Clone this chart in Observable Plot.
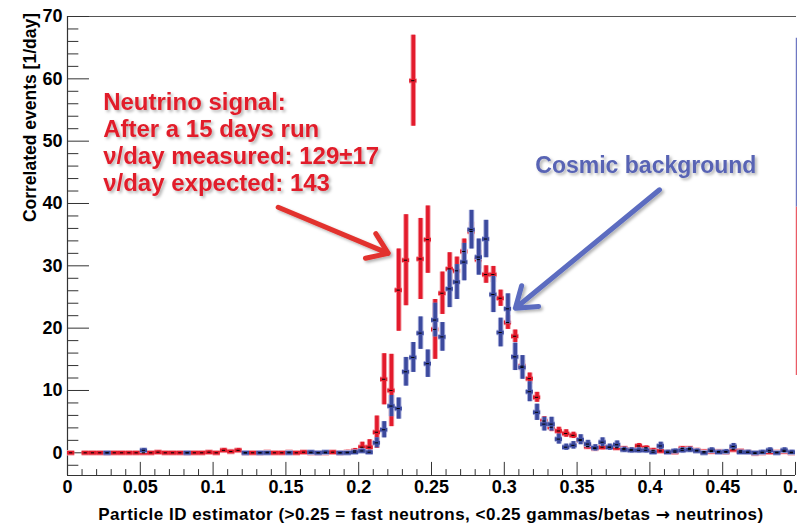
<!DOCTYPE html>
<html><head><meta charset="utf-8">
<script src="https://cdn.jsdelivr.net/npm/d3@7"></script>
<script src="https://cdn.jsdelivr.net/npm/@observablehq/plot@0.6"></script>
<style>body{margin:0;background:#fff}#chart svg{display:block;overflow:hidden}</style>
</head><body><div id="chart"></div><script>
// ---- data: 100 bins of width 0.005 between 0 and 0.5 ----
const binWidth = 0.005;
const signalValues = [
  0, null, 0, 0, 0, 0, 0, 0, 0, 0,
  0, 0, 0.1, 0, 0, 0, 0, 0, 0, 0.1,
  0, 0.4, 0.2, 0.4, 0, 0, 0, 0.1, 0, 0,
  0.1, 0, 0.1, 0, 0, 0, 0.1, 0, 0.1, 0.3,
  0.9, 0.9, 3.3, 11.8, 10.0, 26.1, 30.9, 59.7, 31.1, 34.2,
  19.8, 25.6, 29.5, 29.2, 32.3, 35.5, 31.0, 28.6, 28.6, 24.8,
  20.9, 18.7, 13.9, 11.9, 8.9, 5.1, 4.1, 3.5, 3.1, 2.8,
  2.0, 1.0, 0.7, 0.9, 0.9, 0.8, 0.7, 0.5, 1.1, 0.8,
  0.4, 0.3, 0.1, 0.1, 0.7, 0.7, 0.4, 0.2, 0.2, 0.2,
  0.1, 0.5, 0.3, 0.1, -0.1, 0, 0.1, 0.1, 0.2, 0
];
const signalErrors = [
  0.2, 0.2, 0.2, 0.2, 0.2, 0.2, 0.2, 0.2, 0.2, 0.2,
  0.2, 0.2, 0.2, 0.2, 0.2, 0.2, 0.2, 0.2, 0.2, 0.2,
  0.2, 0.3, 0.2, 0.3, 0.2, 0.2, 0.2, 0.2, 0.2, 0.2,
  0.2, 0.2, 0.2, 0.2, 0.2, 0.2, 0.2, 0.3, 0.3, 0.4,
  0.8, 1.2, 2.6, 4.1, 5.8, 6.6, 7.3, 7.3, 6.5, 5.4,
  4.8, 3.4, 2.6, 2.2, 2.0, 1.5, 1.5, 1.4, 1.3, 1.3,
  1.1, 1.0, 0.9, 0.9, 0.8, 0.7, 0.7, 0.6, 0.6, 0.5,
  0.5, 0.4, 0.4, 0.4, 0.4, 0.4, 0.3, 0.3, 0.4, 0.3,
  0.3, 0.3, 0.2, 0.2, 0.3, 0.3, 0.3, 0.2, 0.2, 0.2,
  0.2, 0.3, 0.2, 0.2, 0.2, 0.2, 0.2, 0.2, 0.2, 0.2
];
const backgroundValues = [
  null, null, null, null, null, 0, null, null, null, null,
  0.4, null, null, null, null, null, 0, null, null, null,
  null, null, null, null, 0, null, 0, 0, null, null,
  0, null, null, 0.1, 0, 0.1, null, 0, 0, 0.1,
  0.3, 0.1, 1.6, 3.7, 7.5, 7.1, 13.0, 15.3, 19.2, 14.3,
  21.3, 18.6, 26.3, 27.4, 30.6, 35.8, 31.4, 34.3, 25.4, 19.3,
  23.1, 15.4, 13.7, 9.8, 6.5, 4.6, 4.6, 2.2, 0.9, 1.2,
  2.1, 1.4, 0.8, 1.7, 0.9, 1.3, 0.5, 0.4, 0.4, 0.4,
  0.1, 1.1, 0.1, 0.3, 0.4, 0.5, 0.3, 0, 0.4, 0.1,
  0.2, 1.0, 0.1, 0.1, 0, 0.1, 0.4, 0, 0.4, 0.1
];
const backgroundErrors = [
  0.2, 0.2, 0.2, 0.2, 0.2, 0.2, 0.2, 0.2, 0.2, 0.2,
  0.3, 0.2, 0.2, 0.2, 0.2, 0.2, 0.2, 0.2, 0.2, 0.2,
  0.2, 0.2, 0.2, 0.2, 0.2, 0.2, 0.2, 0.2, 0.2, 0.2,
  0.2, 0.2, 0.2, 0.2, 0.2, 0.2, 0.2, 0.2, 0.2, 0.3,
  0.3, 0.3, 0.8, 1.3, 1.7, 1.7, 2.3, 2.4, 2.6, 2.2,
  2.7, 2.3, 3.0, 2.8, 3.0, 3.1, 2.9, 3.0, 2.9, 2.3,
  2.4, 2.2, 1.9, 1.6, 1.3, 1.1, 1.1, 0.8, 0.5, 0.6,
  0.8, 0.6, 0.5, 0.7, 0.5, 0.6, 0.4, 0.4, 0.4, 0.4,
  0.3, 0.6, 0.3, 0.3, 0.4, 0.4, 0.3, 0.2, 0.4, 0.3,
  0.3, 0.5, 0.3, 0.3, 0.2, 0.3, 0.4, 0.2, 0.4, 0.3
];

// ---- axis ticks ----
const xMajorTicks = [0, 0.05, 0.1, 0.15, 0.2, 0.25, 0.3, 0.35, 0.4, 0.45, 0.5];
const xTickLabels = ["0", "0.05", "0.1", "0.15", "0.2", "0.25", "0.3", "0.35", "0.4", "0.45", "0.5"];
const xMinorTicks = [0.01,0.02,0.03,0.04,0.06,0.07,0.08,0.09,0.11,0.12,0.13,0.14,0.16,0.17,0.18,0.19,
  0.21,0.22,0.23,0.24,0.26,0.27,0.28,0.29,0.31,0.32,0.33,0.34,0.36,0.37,0.38,0.39,0.41,0.42,0.43,0.44,
  0.46,0.47,0.48,0.49];
const yMajorTicks = [0, 10, 20, 30, 40, 50, 60, 70];
const yMinorTicks = [-2,2,4,6,8,12,14,16,18,22,24,26,28,32,34,36,38,42,44,46,48,52,54,56,58,62,64,66,68];
const yMin = -3.64, yMax = 70;

// ---- texts ----
const xTitleParts = ["Particle ID estimator (>0.25 = fast neutrons, <0.25 gammas/betas ", "\u2192", " neutrinos)"];
const yTitle = "Correlated events [1/day]";
const signalNote = [{x: 0.0245, y: 42.08, text: "Neutrino signal:\nAfter a 15 days run\n\u03bd/day measured: 129\u00b117\n\u03bd/day expected: 143"}];
const backgroundNote = [{x: 0.3213, y: 44.86, text: "Cosmic background"}];
const signalArrow = [{x1: 0.1447, y1: 39.4, x2: 0.2203, y2: 32.0}];
const backgroundArrow = [{x1: 0.4066, y1: 42.2, x2: 0.3076, y2: 23.2}];
const legendEdge = [
  {y1: 66.5, y2: 39.4, c: "#6f78c2"},
  {y1: 39.4, y2: 12.4, c: "#ea5c66"}
];

const RED = "#e31b2c", RED_HALO = "#f39aa3";
const BLUE = "#3c4a9e", BLUE_HALO = "#a7addb";

function toRows(vals, errs) {
  const out = [];
  vals.forEach((v, i) => {
    if (v == null) return;
    out.push({x: (i + 0.5) * binWidth, lo: i * binWidth, hi: (i + 1) * binWidth, v, e: errs[i]});
  });
  return out;
}
const sig = toRows(signalValues, signalErrors);
const bkg = toRows(backgroundValues, backgroundErrors);

function errMarks(data, color, w) {
  return [
    Plot.ruleX(data, {x: "x", y1: d => d.v - d.e, y2: d => d.v + d.e, stroke: color, strokeWidth: w}),
    Plot.ruleY(data, {y: "v", x1: "lo", x2: "hi", stroke: color, strokeWidth: w})
  ];
}

const AX = "#333";
const FONT = "'Liberation Sans', Arial, sans-serif";

const chart = Plot.plot({
  width: 797, height: 525,
  marginLeft: 67, marginRight: 2, marginTop: 16, marginBottom: 50,
  x: {domain: [0, 0.5]},
  y: {domain: [yMin, yMax]},
  style: {fontFamily: FONT, background: "white", color: "#000"},
  marks: [
    // frame
    Plot.ruleY([yMax], {x1: 0, x2: 0.5007, stroke: "#555", strokeWidth: 1.2}),
    Plot.ruleY([yMin], {x1: 0, x2: 0.5, stroke: AX, strokeWidth: 1.2}),
    Plot.ruleX([0], {y1: yMin, y2: yMax, stroke: AX, strokeWidth: 1.2}),
    Plot.ruleX(legendEdge, {x: 0.5007, y1: "y1", y2: "y2", stroke: "c", strokeWidth: 1.5}),
    // inner ticks
    Plot.ruleY(yMajorTicks, {y: d => d, x1: 0, x2: 0.0151, stroke: AX, strokeWidth: 1}),
    Plot.ruleY(yMinorTicks, {y: d => d, x1: 0, x2: 0.0078, stroke: AX, strokeWidth: 1}),
    Plot.ruleX(xMajorTicks, {x: d => d, y1: yMin, y2: yMin + 2.1, stroke: AX, strokeWidth: 1}),
    Plot.ruleX(xMinorTicks, {x: d => d, y1: yMin, y2: yMin + 0.95, stroke: AX, strokeWidth: 1}),
    // tick labels
    Plot.axisX({ticks: xMajorTicks, tickSize: 0, tickPadding: 5, tickFormat: (d, i) => xTickLabels[i],
      fontSize: 18, fontWeight: "bold", label: null}),
    Plot.axisY({ticks: yMajorTicks, tickSize: 0, tickPadding: 5, fontSize: 18, fontWeight: "bold", label: null}),
    // data: signal (red) first, background (blue) on top
    ...errMarks(sig, RED_HALO, 5.5),
    ...errMarks(sig, RED, 3.6),
    ...errMarks(bkg, BLUE_HALO, 5.5),
    ...errMarks(bkg, BLUE, 3.6),
    Plot.ruleY(sig.concat(bkg), {y: "v", x1: d => d.x - 0.0011, x2: d => d.x + 0.0011, stroke: "#000", strokeWidth: 1}),
    // annotations
    Plot.text(signalNote, {x: "x", y: "y", text: "text", textAnchor: "start", lineAnchor: "bottom", lineHeight: 1.125,
      fill: "#e11f2a", fontSize: 24, fontWeight: "bold"}),
    Plot.text(backgroundNote, {x: "x", y: "y", text: "text", textAnchor: "start", lineAnchor: "bottom",
      fill: "#5864b4", fontSize: 23, fontWeight: "bold"}),
    Plot.arrow(signalArrow, {x1: "x1", y1: "y1", x2: "x2", y2: "y2", stroke: "#e2332e", strokeWidth: 5, headLength: 7, headAngle: 70}),
    Plot.arrow(backgroundArrow, {x1: "x1", y1: "y1", x2: "x2", y2: "y2", stroke: "#5b6cc0", strokeWidth: 5, headLength: 7, headAngle: 70})
  ]
});

const svg = d3.select(chart);
// drop shadow for annotations
const defs = svg.insert("defs", ":first-child");
defs.append("filter").attr("id", "sh").attr("x", "-20%").attr("y", "-20%").attr("width", "140%").attr("height", "140%")
  .append("feDropShadow").attr("dx", 2).attr("dy", 2).attr("stdDeviation", 1.5).attr("flood-color", "#000").attr("flood-opacity", 0.3);
svg.selectAll('g[aria-label="arrow"]').attr("filter", "url(#sh)");
svg.selectAll('g[aria-label="text"]').attr("filter", "url(#sh)");

// axis titles
svg.append("text").attr("transform", "translate(36,13) rotate(-90)")
  .attr("text-anchor", "end").attr("font-family", FONT).attr("font-size", 17.5).attr("font-weight", "bold")
  .attr("fill", "#000").text(yTitle);
const xt = svg.append("text").attr("x", 431).attr("y", 520)
  .attr("text-anchor", "middle").attr("font-family", FONT).attr("font-size", 17).attr("font-weight", "bold")
  .attr("letter-spacing", "0.5px").attr("fill", "#000");
xt.append("tspan").text(xTitleParts[0]);
xt.append("tspan").attr("font-family", "'DejaVu Sans', sans-serif").attr("font-size", 17).text(xTitleParts[1]);
xt.append("tspan").text(xTitleParts[2]);

document.getElementById("chart").appendChild(chart);
</script></body></html>
